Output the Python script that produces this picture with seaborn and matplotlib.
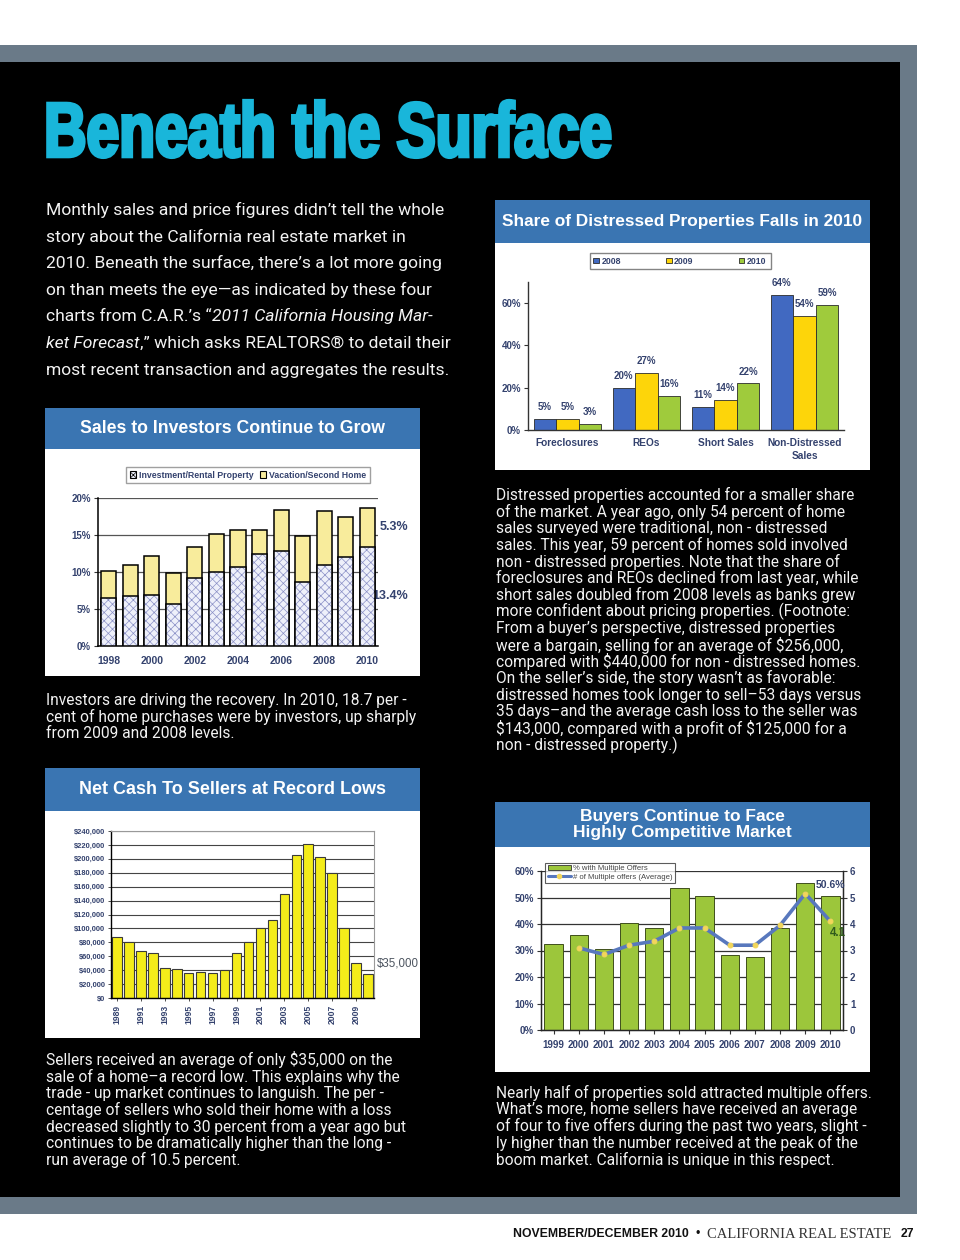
import numpy as np
import pandas as pd
import matplotlib
matplotlib.use('Agg')
import matplotlib.pyplot as plt
import seaborn as sns
from matplotlib import font_manager as fm
from matplotlib.patches import Rectangle, Patch, PathPatch
from matplotlib.lines import Line2D
from matplotlib.textpath import TextPath
from matplotlib.font_manager import FontProperties
from matplotlib.transforms import Affine2D, blended_transform_factory

# ---------- DATA ----------
# Sales to investors (% of purchases)
inv_years = ['1998', '1999', '2000', '2001', '2002', '2003', '2004',
             '2005', '2006', '2007', '2008', '2009', '2010']
inv_rental = [6.5, 6.8, 6.9, 5.7, 9.2, 10.0, 10.7, 12.4, 12.9, 8.7, 11.0, 12.0, 13.4]
inv_vacation = [3.6, 4.2, 5.2, 4.2, 4.2, 5.1, 5.0, 3.3, 5.5, 6.2, 7.3, 5.4, 5.3]
inv_labels = ['Investment/Rental Property', 'Vacation/Second Home']

# Share of distressed properties
dist_categories = ['Foreclosures', 'REOs', 'Short Sales', 'Non-Distressed\nSales']
dist_series = ['2008', '2009', '2010']
dist_2008 = [5, 20, 11, 64]
dist_2009 = [5, 27, 14, 54]
dist_2010 = [3, 16, 22, 59]

# Net cash to sellers
cash_years = ['1989', '1990', '1991', '1992', '1993', '1994', '1995', '1996',
              '1997', '1998', '1999', '2000', '2001', '2002', '2003', '2004',
              '2005', '2006', '2007', '2008', '2009', '2010']
net_cash = [87000, 80000, 67000, 64000, 43000, 41000, 36000, 38000, 36000, 40000,
            65000, 80000, 100000, 112000, 150000, 205000, 221000, 202000,
            180000, 100000, 50000, 35000]

# Multiple offers
mo_years = ['1999', '2000', '2001', '2002', '2003', '2004', '2005', '2006',
            '2007', '2008', '2009', '2010']
pct_multiple = [32.4, 35.9, 30.6, 40.2, 38.6, 53.6, 50.6, 28.4, 27.7, 38.6, 55.4, 50.6]
avg_offers = [np.nan, 3.1, 2.85, 3.2, 3.35, 3.85, 3.85, 3.2, 3.2, 3.95, 5.15, 4.1]
mo_labels = ['% with Multiple Offers', '# of Multiple offers (Average)']

# ---------- TEXT ----------
page_title = 'Beneath the Surface'
intro_lines = [
    [('Monthly sales and price figures didn’t tell the whole', 'normal')],
    [('story about the California real estate market in', 'normal')],
    [('2010. Beneath the surface, there’s a lot more going', 'normal')],
    [('on than meets the eye—as indicated by these four', 'normal')],
    [('charts from C.A.R.’s “', 'normal'), ('2011 California Housing Mar-', 'italic')],
    [('ket Forecast', 'italic'), (',” which asks REALTORS® to detail their', 'normal')],
    [('most recent transaction and aggregates the results.', 'normal')],
]
dist_caption = [
    'Distressed properties accounted for a smaller share',
    'of the market. A year ago, only 54 percent of home',
    'sales surveyed were traditional, non - distressed',
    'sales. This year, 59 percent of homes sold involved',
    'non - distressed properties. Note that the share of',
    'foreclosures and REOs declined from last year, while',
    'short sales doubled from 2008 levels as banks grew',
    'more confident about pricing properties. (Footnote:',
    'From a buyer’s perspective, distressed properties',
    'were a bargain, selling for an average of $256,000,',
    'compared with $440,000 for non - distressed homes.',
    'On the seller’s side, the story wasn’t as favorable:',
    'distressed homes took longer to sell–53 days versus',
    '35 days–and the average cash loss to the seller was',
    '$143,000, compared with a profit of $125,000 for a',
    'non - distressed property.)',
]
inv_caption = [
    'Investors are driving the recovery. In 2010, 18.7 per -',
    'cent of home purchases were by investors, up sharply',
    'from 2009 and 2008 levels.',
]
cash_caption = [
    'Sellers received an average of only $35,000 on the',
    'sale of a home–a record low. This explains why the',
    'trade - up market continues to languish. The per -',
    'centage of sellers who sold their home with a loss',
    'decreased slightly to 30 percent from a year ago but',
    'continues to be dramatically higher than the long -',
    'run average of 10.5 percent.',
]
mo_caption = [
    'Nearly half of properties sold attracted multiple offers.',
    'What’s more, home sellers have received an average',
    'of four to five offers during the past two years, slight -',
    'ly higher than the number received at the peak of the',
    'boom market. California is unique in this respect.',
]

# ---------- SETUP ----------
W, H = 960, 1260
sns.set_style('white')
installed = {f.name for f in fm.fontManager.ttflist}


def pick(*names):
    for n in names:
        if n in installed:
            return n
    return 'DejaVu Sans'


BODY = pick('Roboto', 'Lato', 'Liberation Sans')
CHART = pick('Liberation Sans', 'DejaVu Sans')
SERIF = pick('Liberation Serif', 'DejaVu Serif')
plt.rcParams['font.family'] = [CHART, 'DejaVu Sans']
plt.rcParams['hatch.linewidth'] = 0.5

NAVY = '#34426e'
BAR_BLUE = '#3a75b2'
WHITE_TXT = '#f2f2f2'
CYAN = '#19b6da'

fig = plt.figure(figsize=(W / 100, H / 100), dpi=100)
fig.patch.set_facecolor('white')
bg = fig.add_axes([0, 0, 1, 1])
bg.set_xlim(0, W)
bg.set_ylim(H, 0)
bg.axis('off')
renderer = fig.canvas.get_renderer()


def box(x, y, w, h):
    return [x / W, 1 - (y + h) / H, w / W, h / H]


def fit_size(s, width, **kw):
    t = bg.text(0, 0, s, fontsize=10, parse_math=False, **kw)
    w = t.get_window_extent(renderer).width
    t.remove()
    return 10 * width / w


# page frame
bg.add_patch(Rectangle((0, 45), 917, 1169, fc='#6a7a88', ec='none'))
bg.add_patch(Rectangle((0, 62), 900, 1135, fc='black', ec='none'))

# big title as condensed heavy path (stroke adds weight)
fp = FontProperties(family=CHART, weight='bold')
tp = TextPath((0, 0), page_title, size=100, prop=fp)
cap = TextPath((0, 0), 'B', size=100, prop=fp).get_extents().height
ext = tp.get_extents()
tr = Affine2D().translate(-ext.x0, 0).scale(562 / ext.width, -53 / cap).translate(48, 156.5)
bg.add_patch(PathPatch(tp, transform=tr + bg.transData, fc=CYAN, ec=CYAN, lw=2.6,
                       joinstyle='miter'))

# intro paragraph
intro_fs = fit_size(intro_lines[0][0][0], 397, family=BODY)
for i, segs in enumerate(intro_lines):
    prev = None
    for s, style in segs:
        kw = dict(fontsize=intro_fs, family=BODY, style=style, color=WHITE_TXT, parse_math=False)
        if prev is None:
            prev = bg.text(46, 210 + i * 26.67, s, va='center', ha='left', **kw)
        else:
            prev = bg.annotate(s, xy=(1, 0), xycoords=prev, va='bottom', ha='left', **kw)

# captions
cap_fs = fit_size(dist_caption[0], 359, family=BODY)


def paragraph(x, y0, lines):
    for i, line in enumerate(lines):
        bg.text(x, y0 + i * 16.67, line, fontsize=cap_fs, family=BODY, color=WHITE_TXT,
                va='center', ha='left', parse_math=False)


paragraph(496, 495, dist_caption)
paragraph(46, 700, inv_caption)
paragraph(46, 1060, cash_caption)
paragraph(496, 1093, mo_caption)


def panel(x, y, w, h, bar_h, title, title_w):
    bg.add_patch(Rectangle((x, y), w, h, fc='white', ec='none'))
    bg.add_patch(Rectangle((x, y), w, bar_h, fc=BAR_BLUE, ec='none'))
    longest = max(title.split('\n'), key=len)
    fs = fit_size(longest, title_w, fontweight='bold', family=CHART)
    bg.text(x + w / 2, y + bar_h / 2, title, ha='center', va='center', color='white',
            fontsize=fs, fontweight='bold', family=CHART, linespacing=1.1)


panel(45, 408, 375, 268, 41, 'Sales to Investors Continue to Grow', 303)
panel(495, 200, 375, 270, 43, 'Share of Distressed Properties Falls in 2010', 360)
panel(45, 768, 375, 270, 43, 'Net Cash To Sellers at Record Lows', 307)
panel(495, 802, 375, 270, 45, 'Buyers Continue to Face\nHighly Competitive Market', 218)

tick_font = dict(fontweight='bold', color=NAVY)

# ---------- CHART 1: investors ----------
ax1 = fig.add_axes(box(98, 498, 280, 148))
inv_total = [r + v for r, v in zip(inv_rental, inv_vacation)]
sns.barplot(x=inv_years, y=inv_total, color='#f8ec9c', width=0.7, saturation=1,
            edgecolor='black', linewidth=1.1, errorbar=None, ax=ax1, zorder=2)
n_first = len(ax1.patches)
sns.barplot(x=inv_years, y=inv_rental, color='#eef0fa', width=0.7, saturation=1,
            edgecolor='#8a90c6', linewidth=0, errorbar=None, ax=ax1, zorder=3)
for p in list(ax1.patches)[n_first:]:
    p.set_hatch('xxxx')
    ax1.add_patch(Rectangle(p.get_xy(), p.get_width(), p.get_height(), fill=False,
                            ec='black', lw=1.1, zorder=4))
ax1.set_xlim(-0.5, len(inv_years) - 0.5)
ax1.set_ylim(0, 20)
ax1.set_yticks([0, 5, 10, 15, 20])
ax1.set_yticklabels([f'{v}%' for v in [0, 5, 10, 15, 20]], fontsize=7, **tick_font)
ax1.set_xticks(range(0, len(inv_years), 2))
ax1.set_xticklabels(inv_years[::2], fontsize=7.5, **tick_font)
ax1.set_xticks(np.arange(-0.5, len(inv_years), 1), minor=True)
ax1.tick_params(axis='x', which='major', length=0, pad=7)
ax1.tick_params(axis='x', which='minor', length=3, width=0.8, color='#333', direction='inout')
ax1.tick_params(axis='y', length=3, width=0.8, color='#333', direction='out', pad=2, left=True)
ax1.yaxis.grid(True, color='#555', lw=0.9)
ax1.set_axisbelow(True)
for s in ['top', 'right']:
    ax1.spines[s].set_visible(False)
for s in ['left', 'bottom']:
    ax1.spines[s].set_color('black')
    ax1.spines[s].set_linewidth(1.1)
ax1.set_xlabel('')
ax1.set_ylabel('')
tr1 = blended_transform_factory(ax1.transAxes, ax1.transData)
ax1.text(1.107, inv_rental[-1] + inv_vacation[-1] / 2, f'{inv_vacation[-1]}%', transform=tr1,
         ha='right', va='center', fontsize=9, **tick_font)
ax1.text(1.107, inv_rental[-1] / 2, f'{inv_rental[-1]}%', transform=tr1,
         ha='right', va='center', fontsize=9, **tick_font)
h1 = [Patch(fc='#eef0fa', ec='black', hatch='xxxx', lw=0.8),
      Patch(fc='#f8ec9c', ec='black', lw=0.8)]
leg1 = ax1.legend(h1, inv_labels, loc='center', bbox_to_anchor=(248 / W, 1 - 475 / H),
                  bbox_transform=fig.transFigure, ncol=2, frameon=True, fancybox=False,
                  edgecolor='#888', handlelength=0.7, handleheight=0.7,
                  handletextpad=0.3, columnspacing=0.7, borderpad=0.45,
                  prop={'weight': 'bold', 'size': 6.3})
for t in leg1.get_texts():
    t.set_color(NAVY)

# ---------- CHART 2: distressed ----------
ax2 = fig.add_axes(box(528, 282, 316, 148))
dist_df = pd.DataFrame({
    'category': dist_categories * 3,
    'year': [dist_series[0]] * 4 + [dist_series[1]] * 4 + [dist_series[2]] * 4,
    'share': dist_2008 + dist_2009 + dist_2010,
})
sns.barplot(data=dist_df, x='category', y='share', hue='year',
            palette=['#4169c1', '#fdd50a', '#9fcb3c'], width=0.86, saturation=1,
            edgecolor='#2b2b2b', linewidth=0.6, errorbar=None, ax=ax2)
for c in ax2.containers:
    ax2.bar_label(c, fmt='{:g}%', padding=5, fontsize=7, **tick_font)
ax2.set_xlim(-0.5, len(dist_categories) - 0.5)
ax2.set_ylim(0, 70)
ax2.set_yticks([0, 20, 40, 60])
ax2.set_yticklabels([f'{v}%' for v in [0, 20, 40, 60]], fontsize=7, **tick_font)
ax2.set_xticks(range(len(dist_categories)))
ax2.set_xticklabels(dist_categories, fontsize=7.3, linespacing=1.3, **tick_font)
ax2.set_xticks(np.arange(-0.5, len(dist_categories), 1), minor=True)
ax2.tick_params(axis='x', which='major', length=0, pad=6)
ax2.tick_params(axis='x', which='minor', length=3, width=0.8, color='#333', direction='out')
ax2.tick_params(axis='y', length=3, width=0.8, color='#333', direction='out', pad=2, left=True)
for s in ['top', 'right']:
    ax2.spines[s].set_visible(False)
for s in ['left', 'bottom']:
    ax2.spines[s].set_color('#333')
    ax2.spines[s].set_linewidth(1.0)
ax2.set_xlabel('')
ax2.set_ylabel('')
hd, lb = ax2.get_legend_handles_labels()
leg2 = ax2.legend(hd, lb, loc='center', bbox_to_anchor=(680 / W, 1 - 261 / H),
                  bbox_transform=fig.transFigure, ncol=3, frameon=True, fancybox=False,
                  edgecolor='#666', handlelength=0.6, handleheight=0.6,
                  handletextpad=0.3, columnspacing=5.2, borderpad=0.45,
                  prop={'weight': 'bold', 'size': 6.3})
for t in leg2.get_texts():
    t.set_color(NAVY)

# ---------- CHART 3: net cash ----------
ax3 = fig.add_axes(box(111, 831, 263, 167))
sns.barplot(x=cash_years, y=net_cash, color='#f4ec1a', width=0.8, saturation=1,
            edgecolor='#3a3a3a', linewidth=0.8, errorbar=None, ax=ax3, zorder=2)
ax3.set_xlim(-0.5, len(cash_years) - 0.5)
ax3.set_ylim(0, 240000)
yt3 = list(range(0, 240001, 20000))
ax3.set_yticks(yt3)
ax3.set_yticklabels([f'${v:,}' for v in yt3], fontsize=5.4, **tick_font)
ax3.set_xticks(range(0, len(cash_years), 2))
ax3.set_xticklabels(cash_years[::2], fontsize=6.2, rotation=90, **tick_font)
ax3.tick_params(axis='x', length=2, width=0.6, color='#333', direction='out', pad=3, bottom=True)
ax3.tick_params(axis='y', length=2, width=0.6, color='#333', direction='out', pad=2, left=True)
ax3.yaxis.grid(True, color='#444', lw=0.8)
ax3.set_axisbelow(True)
for s in ['top', 'right']:
    ax3.spines[s].set_color('#999')
    ax3.spines[s].set_linewidth(0.8)
for s in ['left', 'bottom']:
    ax3.spines[s].set_color('black')
    ax3.spines[s].set_linewidth(1.0)
ax3.set_xlabel('')
ax3.set_ylabel('')
tr3 = blended_transform_factory(ax3.transAxes, ax3.transData)
ax3.text(1.012, net_cash[-1] + 15000, f'${net_cash[-1]:,}', transform=tr3, ha='left',
         va='center', fontsize=8.3, color='#4d5560', parse_math=False)

# ---------- CHART 4: multiple offers ----------
ax4 = fig.add_axes(box(541, 871, 302, 159))
sns.barplot(x=mo_years, y=pct_multiple, color='#9cc63b', width=0.73, saturation=1,
            edgecolor='#3f4f1c', linewidth=0.7, errorbar=None, ax=ax4, zorder=2)
ax4.set_ylim(0, 60)
yt4 = list(range(0, 61, 10))
ax4.set_yticks(yt4)
ax4.set_yticklabels([f'{v}%' for v in yt4], fontsize=7, **tick_font)
ax4.set_xticks(range(len(mo_years)))
ax4.set_xticklabels(mo_years, fontsize=7, **tick_font)
ax4.tick_params(axis='x', length=3, width=0.8, color='#333', direction='out', pad=4, bottom=True)
ax4.tick_params(axis='y', length=3, width=0.8, color='#333', direction='out', pad=2, left=True)
ax4.yaxis.grid(True, color='#333', lw=0.9)
ax4.set_axisbelow(True)
ax4.spines['top'].set_visible(False)
for s in ['left', 'bottom', 'right']:
    ax4.spines[s].set_color('#222')
    ax4.spines[s].set_linewidth(1.0)
ax4.set_xlabel('')
ax4.set_ylabel('')

ax4b = ax4.twinx()
offers_df = pd.DataFrame({'pos': np.arange(len(mo_years)), 'offers': avg_offers}).dropna()
sns.lineplot(data=offers_df, x='pos', y='offers', ax=ax4b, color='#5878bd', lw=2.6,
             marker='o', markersize=3.5, markerfacecolor='#f2d65a',
             markeredgecolor='#f2d65a', zorder=3)
ax4b.set_ylim(0, 6)
ax4b.set_yticks(range(0, 7))
ax4b.set_yticklabels([str(v) for v in range(0, 7)], fontsize=7, **tick_font)
ax4b.tick_params(axis='y', length=3, width=0.8, color='#333', direction='out', pad=2, right=True)
ax4b.spines['top'].set_visible(False)
ax4b.set_xlabel('')
ax4b.set_ylabel('')
ax4.set_xlim(-0.5, len(mo_years) - 0.5)
ax4b.text(len(mo_years) - 1, pct_multiple[-1] / 10 + 0.4, f'{pct_multiple[-1]}%',
          ha='center', va='center', fontsize=7.5, **tick_font)
ax4b.text(len(mo_years) - 0.7, avg_offers[-1] - 0.45, f'{avg_offers[-1]}',
          ha='center', va='center', fontsize=8.3, fontweight='bold', color='#2f5a1c')
h4 = [Patch(fc='#9cc63b', ec='#333', lw=0.6),
      Line2D([], [], color='#5878bd', lw=2.2, marker='o', markersize=3,
             markerfacecolor='#f2d65a', markeredgecolor='#f2d65a')]
leg4 = ax4b.legend(h4, mo_labels, loc='center', bbox_to_anchor=(610 / W, 1 - 873 / H),
                   bbox_transform=fig.transFigure, ncol=1, frameon=True, fancybox=False,
                   edgecolor='#333', handlelength=3.0, handleheight=0.6,
                   handletextpad=0.2, borderpad=0.3, labelspacing=0.2,
                   prop={'size': 5.6})
leg4.get_frame().set_linewidth(0.8)
for t in leg4.get_texts():
    t.set_color('#444')

# ---------- FOOTER ----------
ft = dict(va='center', parse_math=False)
fs_a = fit_size('NOVEMBER/DECEMBER 2010', 174, fontweight='bold', family=CHART)
t0 = bg.text(513, 1234, 'NOVEMBER/DECEMBER 2010', fontsize=fs_a, fontweight='bold',
             family=CHART, color='#111', **ft)
t1 = bg.annotate('•', xy=(1, 0.5), xycoords=t0, xytext=(7, 0), textcoords='offset pixels',
                 fontsize=fs_a, color='#111', ha='left', **ft)
fs_b = fit_size('CALIFORNIA REAL ESTATE', 185, family=SERIF)
t2 = bg.annotate('CALIFORNIA REAL ESTATE', xy=(1, 0.5), xycoords=t1, xytext=(7, 0),
                 textcoords='offset pixels', fontsize=fs_b, family=SERIF, color='#333',
                 ha='left', **ft)
bg.annotate('27', xy=(1, 0.5), xycoords=t2, xytext=(9, 0), textcoords='offset pixels',
            fontsize=fs_a, fontweight='bold', family=CHART, color='#111', ha='left', **ft)

fig.savefig('out.png', dpi=100, facecolor='white')
